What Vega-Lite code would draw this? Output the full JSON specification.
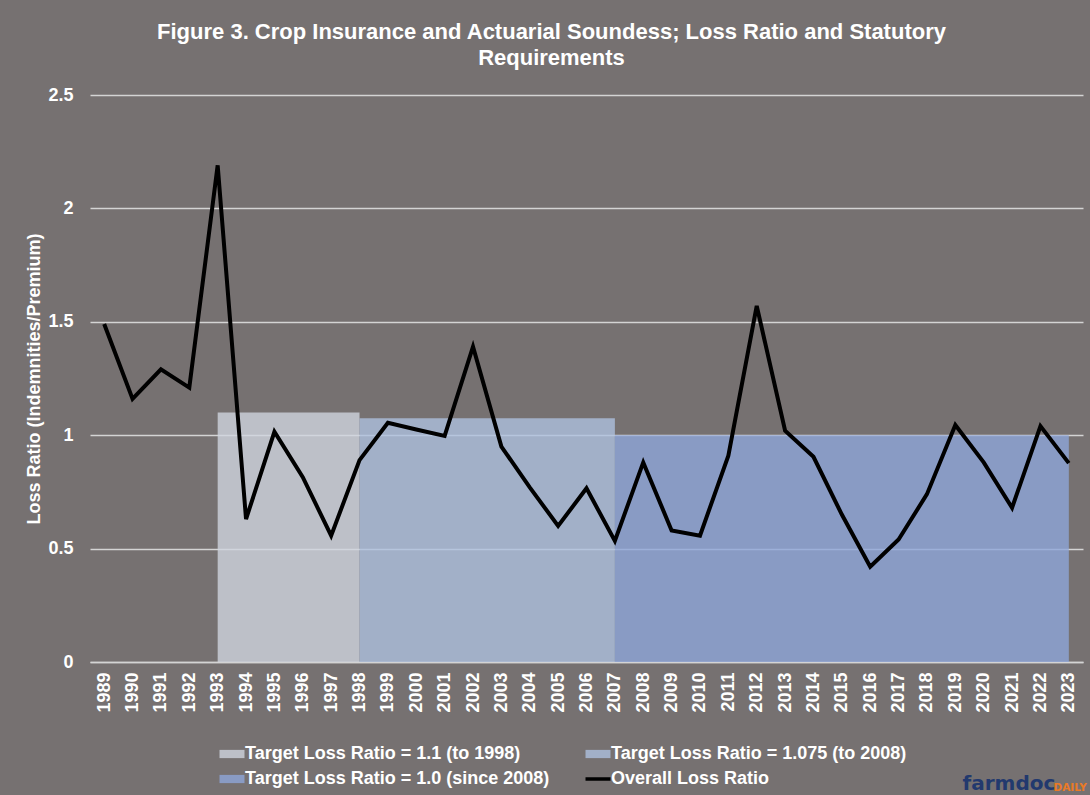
{
  "$schema": "https://vega.github.io/schema/vega-lite/v6.json",
  "width": 993,
  "height": 567,
  "autosize": {"type": "none"},
  "padding": {"left": 90, "top": 95, "right": 7, "bottom": 133},
  "background": "#767171",
  "config": {"view": {"stroke": null}, "font": "Liberation Sans"},
  "title": {
    "text": ["Figure 3. Crop Insurance and Actuarial Soundess; Loss Ratio and Statutory", "Requirements"],
    "font": "Liberation Sans",
    "fontSize": 22,
    "fontWeight": "bold",
    "color": "#ffffff",
    "anchor": "middle",
    "dx": -35,
    "offset": 16,
    "lineHeight": 26
  },
  "datasets": {
    "loss": [
      {"year": 1989, "series": "Overall Loss Ratio", "value": 1.49},
      {"year": 1990, "series": "Overall Loss Ratio", "value": 1.16},
      {"year": 1991, "series": "Overall Loss Ratio", "value": 1.29},
      {"year": 1992, "series": "Overall Loss Ratio", "value": 1.21},
      {"year": 1993, "series": "Overall Loss Ratio", "value": 2.19},
      {"year": 1994, "series": "Overall Loss Ratio", "value": 0.63},
      {"year": 1995, "series": "Overall Loss Ratio", "value": 1.015},
      {"year": 1996, "series": "Overall Loss Ratio", "value": 0.815},
      {"year": 1997, "series": "Overall Loss Ratio", "value": 0.557},
      {"year": 1998, "series": "Overall Loss Ratio", "value": 0.89},
      {"year": 1999, "series": "Overall Loss Ratio", "value": 1.055},
      {"year": 2000, "series": "Overall Loss Ratio", "value": 1.025},
      {"year": 2001, "series": "Overall Loss Ratio", "value": 0.997},
      {"year": 2002, "series": "Overall Loss Ratio", "value": 1.39},
      {"year": 2003, "series": "Overall Loss Ratio", "value": 0.95},
      {"year": 2004, "series": "Overall Loss Ratio", "value": 0.77},
      {"year": 2005, "series": "Overall Loss Ratio", "value": 0.6},
      {"year": 2006, "series": "Overall Loss Ratio", "value": 0.766},
      {"year": 2007, "series": "Overall Loss Ratio", "value": 0.534},
      {"year": 2008, "series": "Overall Loss Ratio", "value": 0.88},
      {"year": 2009, "series": "Overall Loss Ratio", "value": 0.58},
      {"year": 2010, "series": "Overall Loss Ratio", "value": 0.557},
      {"year": 2011, "series": "Overall Loss Ratio", "value": 0.91},
      {"year": 2012, "series": "Overall Loss Ratio", "value": 1.57},
      {"year": 2013, "series": "Overall Loss Ratio", "value": 1.02},
      {"year": 2014, "series": "Overall Loss Ratio", "value": 0.905},
      {"year": 2015, "series": "Overall Loss Ratio", "value": 0.65},
      {"year": 2016, "series": "Overall Loss Ratio", "value": 0.42},
      {"year": 2017, "series": "Overall Loss Ratio", "value": 0.54},
      {"year": 2018, "series": "Overall Loss Ratio", "value": 0.74},
      {"year": 2019, "series": "Overall Loss Ratio", "value": 1.045},
      {"year": 2020, "series": "Overall Loss Ratio", "value": 0.88},
      {"year": 2021, "series": "Overall Loss Ratio", "value": 0.68},
      {"year": 2022, "series": "Overall Loss Ratio", "value": 1.04},
      {"year": 2023, "series": "Overall Loss Ratio", "value": 0.877}
    ],
    "target": [
      {"year": 1993, "series": "Target Loss Ratio = 1.1 (to 1998)", "value": 1.1},
      {"year": 1994, "series": "Target Loss Ratio = 1.1 (to 1998)", "value": 1.1},
      {"year": 1995, "series": "Target Loss Ratio = 1.1 (to 1998)", "value": 1.1},
      {"year": 1996, "series": "Target Loss Ratio = 1.1 (to 1998)", "value": 1.1},
      {"year": 1997, "series": "Target Loss Ratio = 1.1 (to 1998)", "value": 1.1},
      {"year": 1998, "series": "Target Loss Ratio = 1.1 (to 1998)", "value": 1.1},
      {"year": 1998, "series": "Target Loss Ratio = 1.075 (to 2008)", "value": 1.075},
      {"year": 1999, "series": "Target Loss Ratio = 1.075 (to 2008)", "value": 1.075},
      {"year": 2000, "series": "Target Loss Ratio = 1.075 (to 2008)", "value": 1.075},
      {"year": 2001, "series": "Target Loss Ratio = 1.075 (to 2008)", "value": 1.075},
      {"year": 2002, "series": "Target Loss Ratio = 1.075 (to 2008)", "value": 1.075},
      {"year": 2003, "series": "Target Loss Ratio = 1.075 (to 2008)", "value": 1.075},
      {"year": 2004, "series": "Target Loss Ratio = 1.075 (to 2008)", "value": 1.075},
      {"year": 2005, "series": "Target Loss Ratio = 1.075 (to 2008)", "value": 1.075},
      {"year": 2006, "series": "Target Loss Ratio = 1.075 (to 2008)", "value": 1.075},
      {"year": 2007, "series": "Target Loss Ratio = 1.075 (to 2008)", "value": 1.075},
      {"year": 2007, "series": "Target Loss Ratio = 1.0 (since 2008)", "value": 1.0},
      {"year": 2008, "series": "Target Loss Ratio = 1.0 (since 2008)", "value": 1.0},
      {"year": 2009, "series": "Target Loss Ratio = 1.0 (since 2008)", "value": 1.0},
      {"year": 2010, "series": "Target Loss Ratio = 1.0 (since 2008)", "value": 1.0},
      {"year": 2011, "series": "Target Loss Ratio = 1.0 (since 2008)", "value": 1.0},
      {"year": 2012, "series": "Target Loss Ratio = 1.0 (since 2008)", "value": 1.0},
      {"year": 2013, "series": "Target Loss Ratio = 1.0 (since 2008)", "value": 1.0},
      {"year": 2014, "series": "Target Loss Ratio = 1.0 (since 2008)", "value": 1.0},
      {"year": 2015, "series": "Target Loss Ratio = 1.0 (since 2008)", "value": 1.0},
      {"year": 2016, "series": "Target Loss Ratio = 1.0 (since 2008)", "value": 1.0},
      {"year": 2017, "series": "Target Loss Ratio = 1.0 (since 2008)", "value": 1.0},
      {"year": 2018, "series": "Target Loss Ratio = 1.0 (since 2008)", "value": 1.0},
      {"year": 2019, "series": "Target Loss Ratio = 1.0 (since 2008)", "value": 1.0},
      {"year": 2020, "series": "Target Loss Ratio = 1.0 (since 2008)", "value": 1.0},
      {"year": 2021, "series": "Target Loss Ratio = 1.0 (since 2008)", "value": 1.0},
      {"year": 2022, "series": "Target Loss Ratio = 1.0 (since 2008)", "value": 1.0},
      {"year": 2023, "series": "Target Loss Ratio = 1.0 (since 2008)", "value": 1.0}
    ]
  },
  "layer": [
    {
      "data": {"name": "target"},
      "mark": {"type": "area", "fillOpacity": 0.8, "interpolate": "linear"},
      "encoding": {
        "x": {
          "field": "year",
          "type": "ordinal",
          "scale": {"type": "point", "padding": 0.5},
          "axis": {
            "title": "farmdoc",
            "titleFont": "DejaVu Sans",
            "titleFontSize": 20,
            "titleFontWeight": "bold",
            "titleColor": "#22396e",
            "titleAngle": 0,
            "titleAlign": "left",
            "titleBaseline": "middle",
            "titleX": 872,
            "titleY": 121,
            "labelAngle": -90,
            "labelFont": "Liberation Sans",
            "labelFontSize": 18,
            "labelFontWeight": "bold",
            "labelColor": "#ffffff",
            "labelPadding": 10,
            "ticks": false,
            "grid": false,
            "domain": true,
            "domainColor": "#d4d4d4",
            "domainWidth": 1.5
          }
        },
        "y": {
          "field": "value",
          "type": "quantitative",
          "stack": null,
          "scale": {"domain": [0, 2.5], "nice": false},
          "axis": {
            "title": "Loss Ratio (Indemnities/Premium)",
            "titleFont": "Liberation Sans",
            "titleFontSize": 18,
            "titleFontWeight": "bold",
            "titleColor": "#ffffff",
            "titlePadding": 4,
            "values": [0, 0.5, 1, 1.5, 2, 2.5],
            "format": "~g",
            "labelFont": "Liberation Sans",
            "labelFontSize": 18,
            "labelFontWeight": "bold",
            "labelColor": "#ffffff",
            "labelPadding": 17,
            "ticks": false,
            "domain": false,
            "grid": true,
            "gridColor": "#d4d4d4",
            "gridWidth": 1.5
          }
        },
        "color": {
          "field": "series",
          "type": "nominal",
          "scale": {
            "domain": ["Target Loss Ratio = 1.1 (to 1998)", "Target Loss Ratio = 1.075 (to 2008)", "Target Loss Ratio = 1.0 (since 2008)", "Overall Loss Ratio"],
            "range": ["#D0D4DE", "#AEC0DF", "#8EA6D9", "#000000"]
          },
          "legend": {
            "title": null,
            "orient": "none",
            "legendX": 133,
            "legendY": 650,
            "direction": "horizontal",
            "columns": 2,
            "columnPadding": 28,
            "rowPadding": 7,
            "padding": 0,
            "labelFont": "Liberation Sans",
            "labelFontSize": 18,
            "labelFontWeight": "bold",
            "labelColor": "#ffffff",
            "labelOffset": 4,
            "labelLimit": 500,
            "symbolSize": 625,
            "encode": {
              "symbols": {
                "update": {
                  "shape": {"signal": "datum.value === 'Overall Loss Ratio' ? 'M-1,0H1' : 'M-1,-0.33H1V0.33H-1Z'"},
                  "fill": {"signal": "datum.value === 'Overall Loss Ratio' ? 'transparent' : (datum.value === 'Target Loss Ratio = 1.1 (to 1998)' ? '#D0D4DE' : (datum.value === 'Target Loss Ratio = 1.075 (to 2008)' ? '#AEC0DF' : '#8EA6D9'))"},
                  "fillOpacity": {"value": 0.8},
                  "stroke": {"signal": "datum.value === 'Overall Loss Ratio' ? '#000000' : 'transparent'"},
                  "strokeWidth": {"signal": "datum.value === 'Overall Loss Ratio' ? 3.5 : 0"},
                  "opacity": {"value": 1}
                }
              }
            }
          }
        }
      }
    },
    {
      "data": {"name": "loss"},
      "mark": {"type": "line", "strokeWidth": 4},
      "encoding": {
        "x": {"field": "year", "type": "ordinal"},
        "y": {
          "field": "value",
          "type": "quantitative",
          "axis": {
            "orient": "right",
            "title": "DAILY",
            "titleFont": "DejaVu Sans",
            "titleFontSize": 10.5,
            "titleFontWeight": "bold",
            "titleColor": "#ea7a26",
            "titleAngle": 0,
            "titleAlign": "left",
            "titleBaseline": "middle",
            "titleX": -30,
            "titleY": 692,
            "labels": false,
            "ticks": false,
            "domain": false,
            "grid": false
          }
        },
        "color": {"field": "series", "type": "nominal"}
      }
    }
  ],
  "resolve": {"axis": {"y": "independent"}}
}
